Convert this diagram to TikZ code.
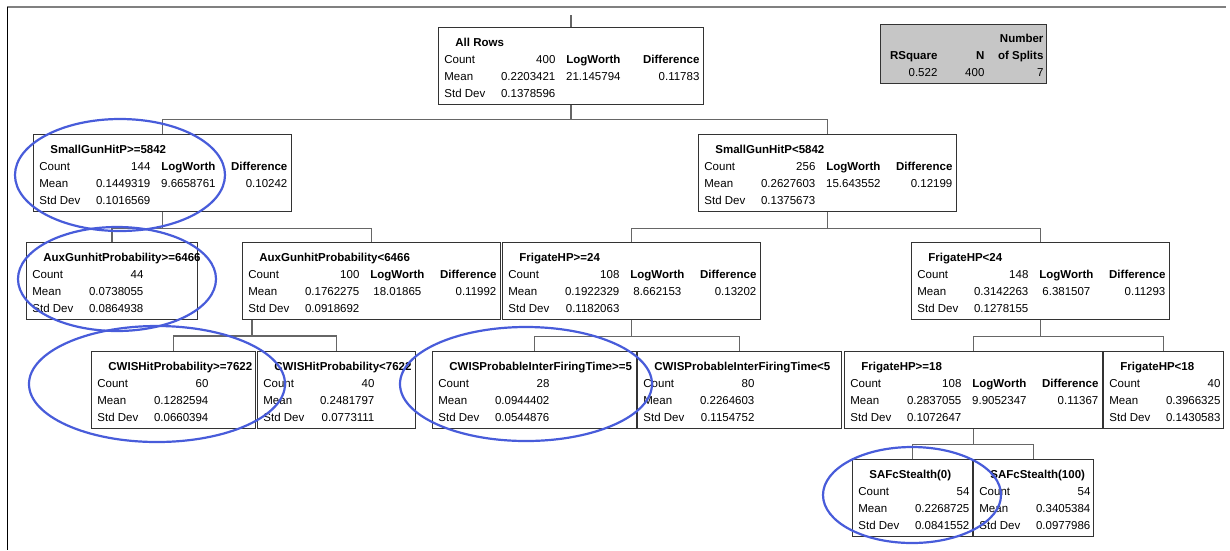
\documentclass[tikz,border=0pt]{standalone}
\usepackage{fontspec}
\setmainfont{Liberation Sans}
\usepackage{array}
\newcolumntype{L}[1]{>{\raggedright\arraybackslash}p{#1}}
\newcolumntype{R}[1]{>{\raggedleft\arraybackslash}p{#1}}
\newcolumntype{C}[1]{>{\centering\arraybackslash}p{#1}}
\setlength{\tabcolsep}{0pt}
\definecolor{penblue}{RGB}{72,92,218}

\newcommand{\splitnode}[7][61pt]{%
\begin{tabular}{@{\hspace{6pt}}L{50pt}R{61pt}C{76pt}R{#1}@{\hspace{4pt}}}
\multicolumn{4}{@{\hspace{17pt}}l}{\rule{0pt}{17pt}\makebox[0pt][l]{\bfseries #2}}\\
Count & #3 & \bfseries LogWorth & \bfseries Difference\\
Mean & #4 & #6 & #7\\
Std Dev & #5 & & \\
\end{tabular}}

\newcommand{\leafnode}[5]{%
\begin{tabular}{@{\hspace{6pt}}L{50pt}R{61pt}@{\hspace{#5}}}
\multicolumn{2}{@{\hspace{17pt}}l}{\rule{0pt}{17pt}\makebox[0pt][l]{\bfseries #1}}\\
Count & #2\\
Mean & #3\\
Std Dev & #4\\
\end{tabular}}

\tikzset{
  splitbox/.style={draw=black!80, line width=0.8pt, fill=white, anchor=north west,
    inner sep=0pt, minimum height=77pt, font=\fontsize{11.5}{17}\selectfont},
  statbox/.style={splitbox, fill=gray!45, minimum height=59pt},
  conn/.style={draw=black!60, line width=1.3pt},
  circled/.style={draw=penblue, line width=2.2pt}
}

\begin{document}
\begin{tikzpicture}[x=1pt, y=-1pt]
\useasboundingbox (0,0) rectangle (1230,550);
\draw[gray, line width=2pt] (7,7) -- (1226,7);
\draw[black, line width=1pt] (7,7) -- (7,550);

\node (rsq)[statbox] at (880,24) {\begin{tabular}{R{57pt}R{47pt}R{59pt}@{\hspace{3pt}}}
\rule{0pt}{17pt} & & \bfseries Number\\
\bfseries RSquare & \bfseries N & \bfseries of Splits\\
0.522 & 400 & 7\\
\end{tabular}};

\node (root)[splitbox] at (438,27) {\splitnode[68pt]{All Rows}{400}{0.2203421}{0.1378596}{21.145794}{0.11783}};
\node (sg1)[splitbox] at (33,134) {\splitnode{SmallGunHitP>=5842}{144}{0.1449319}{0.1016569}{9.6658761}{0.10242}};
\node (sg2)[splitbox] at (698,134) {\splitnode{SmallGunHitP<5842}{256}{0.2627603}{0.1375673}{15.643552}{0.12199}};
\node (aux1)[splitbox] at (26,242) {\leafnode{AuxGunhitProbability>=6466}{44}{0.0738055}{0.0864938}{54pt}};
\node (aux2)[splitbox] at (242,242) {\splitnode{AuxGunhitProbability<6466}{100}{0.1762275}{0.0918692}{18.01865}{0.11992}};
\node (fr1)[splitbox] at (502,242) {\splitnode{FrigateHP>=24}{108}{0.1922329}{0.1182063}{8.662153}{0.13202}};
\node (fr2)[splitbox] at (911,242) {\splitnode{FrigateHP<24}{148}{0.3142263}{0.1278155}{6.381507}{0.11293}};
\node (cwis1)[splitbox] at (91,351) {\leafnode{CWISHitProbability>=7622}{60}{0.1282594}{0.0660394}{47pt}};
\node (cwis2)[splitbox] at (257,351) {\leafnode{CWISHitProbability<7622}{40}{0.2481797}{0.0773111}{41pt}};
\node (cwisp1)[splitbox] at (432,351) {\leafnode{CWISProbableInterFiringTime>=5}{28}{0.0944402}{0.0544876}{87pt}};
\node (cwisp2)[splitbox] at (637,351) {\leafnode{CWISProbableInterFiringTime<5}{80}{0.2264603}{0.1154752}{87pt}};
\node (fr3)[splitbox] at (844,351) {\splitnode{FrigateHP>=18}{108}{0.2837055}{0.1072647}{9.9052347}{0.11367}};
\node (fr4)[splitbox] at (1103,351) {\leafnode{FrigateHP<18}{40}{0.3966325}{0.1430583}{3pt}};
\node (saf1)[splitbox] at (852,459) {\leafnode{SAFcStealth(0)}{54}{0.2268725}{0.0841552}{3pt}};
\node (saf2)[splitbox] at (973,459) {\leafnode{SAFcStealth(100)}{54}{0.3405384}{0.0977986}{3pt}};

\coordinate (j4) at (252,336);
\draw[conn] (root.north) -- ++(0,-12);
\draw[conn] (root.south) -- ++(0,15) coordinate (j1);
\draw[conn] (sg1.north) |- (j1) -| (sg2.north);
\draw[conn] (sg1.south) -- ++(0,17) coordinate (j2);
\draw[conn] (aux1.north) |- (j2) -| (aux2.north);
\draw[conn] (sg2.south) -- ++(0,17) coordinate (j3);
\draw[conn] (fr1.north) |- (j3) -| (fr2.north);
\draw[conn] (aux2.south -| j4) -- (j4);
\draw[conn] (cwis1.north) |- (j4) -| (cwis2.north);
\draw[conn] (fr1.south) -- ++(0,17) coordinate (j5);
\draw[conn] (cwisp1.north) |- (j5) -| (cwisp2.north);
\draw[conn] (fr2.south) -- ++(0,17) coordinate (j6);
\draw[conn] (fr3.north) |- (j6) -| (fr4.north);
\draw[conn] (fr3.south) -- ++(0,16) coordinate (j7);
\draw[conn] (saf1.north) |- (j7) -| (saf2.north);

\draw[circled] (120,175) ellipse [x radius=105pt, y radius=56pt];
\draw[circled] (117,279) ellipse [x radius=99pt, y radius=52pt];
\draw[circled] (157,384) ellipse [x radius=128pt, y radius=58pt];
\draw[circled] (526,384) ellipse [x radius=126pt, y radius=57pt];
\draw[circled] (912,495) ellipse [x radius=89pt, y radius=48pt];
\end{tikzpicture}
\end{document}
